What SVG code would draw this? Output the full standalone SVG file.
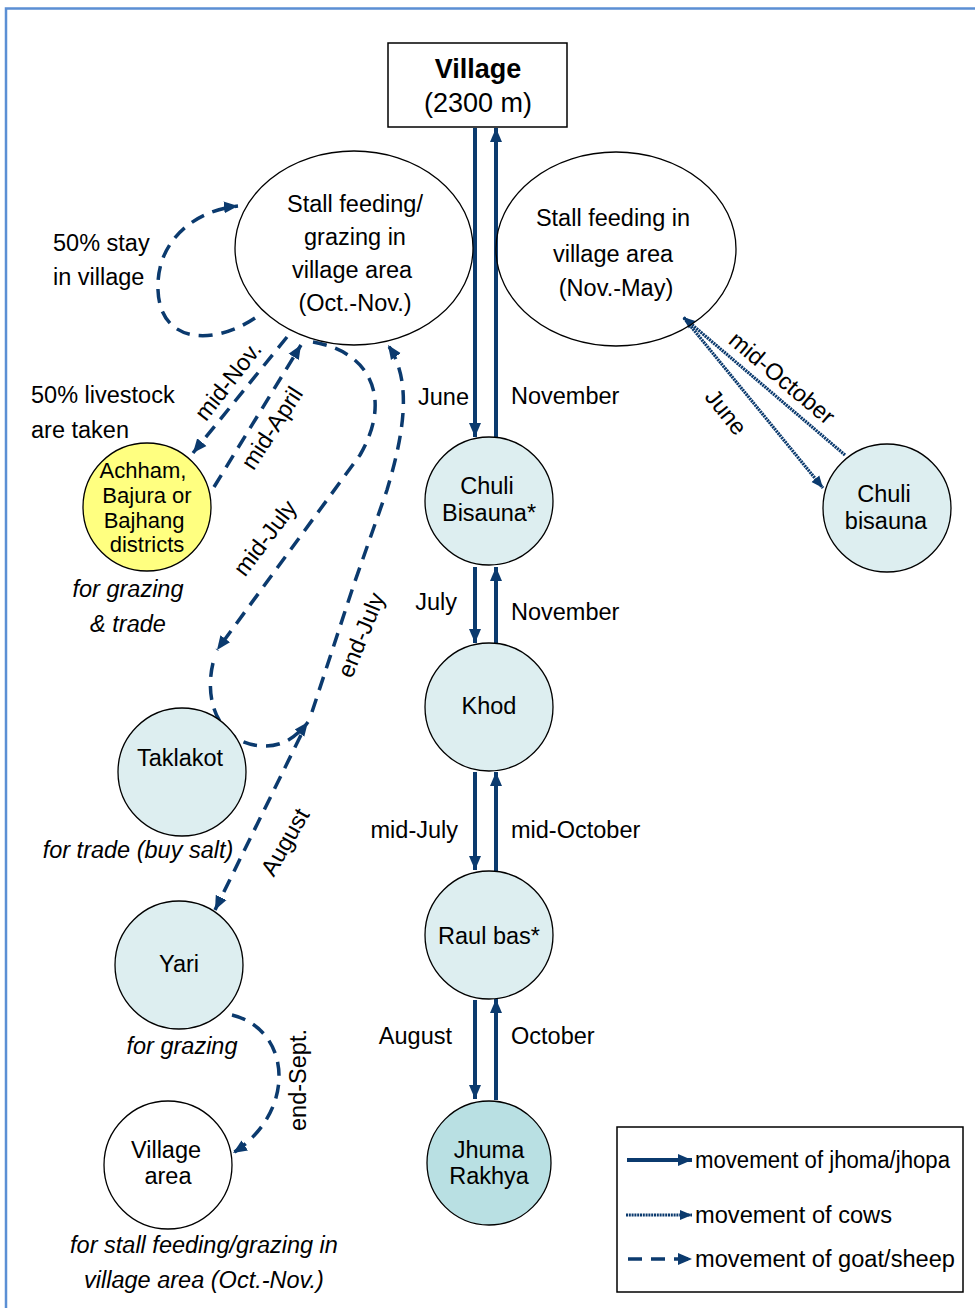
<svg xmlns="http://www.w3.org/2000/svg" width="975" height="1308" viewBox="0 0 975 1308">
  <style>
    text { font-family: "Liberation Sans", Arial, sans-serif; font-size: 23.5px; fill: #000; }
    .c { text-anchor: middle; }
    .it { font-style: italic; }
    .sm { font-size: 22px; }
    .node { stroke: #000; stroke-width: 1.3; }
    .plain { fill: #fff; }
    .blue { fill: #ddeef0; }
    .teal { fill: #b9e0e3; }
    .yellow { fill: #ffff80; }
    .jh { stroke: #0b3a6e; stroke-width: 4; fill: none; }
    .cow { stroke: #0b3a6e; stroke-width: 3.2; stroke-dasharray: 2 0.8; fill: none; }
    .goat { stroke: #0b3a6e; stroke-width: 3.5; stroke-dasharray: 14 9; fill: none; }
  </style>
  <defs>
    <marker id="headJ" markerUnits="userSpaceOnUse" markerWidth="16" markerHeight="14" refX="14" refY="7" orient="auto">
      <path d="M0,1 L14,7 L0,13 Z" fill="#0b3a6e"/>
    </marker>
    <marker id="headC" markerUnits="userSpaceOnUse" markerWidth="14" markerHeight="12" refX="12" refY="6" orient="auto">
      <path d="M0,1 L12,6 L0,11 Z" fill="#0b3a6e"/>
    </marker>
    <marker id="headG" markerUnits="userSpaceOnUse" markerWidth="16" markerHeight="14" refX="14" refY="7" orient="auto">
      <path d="M0,1 L14,7 L0,13 Z" fill="#0b3a6e"/>
    </marker>
  </defs>

  <!-- frame -->
  <path d="M975,8.5 L6,8.5 L6,1308" fill="none" stroke="#5b8fd4" stroke-width="2.5"/>

  <!-- connectors -->
  <g id="connectors">
    <!-- jhoma/jhopa main column -->
    <line class="jh" x1="475" y1="128" x2="475" y2="437" marker-end="url(#headJ)"/>
    <line class="jh" x1="496" y1="437" x2="496" y2="128" marker-end="url(#headJ)"/>
    <line class="jh" x1="475" y1="567" x2="475" y2="643" marker-end="url(#headJ)"/>
    <line class="jh" x1="496" y1="643" x2="496" y2="567" marker-end="url(#headJ)"/>
    <line class="jh" x1="475" y1="772" x2="475" y2="870" marker-end="url(#headJ)"/>
    <line class="jh" x1="496" y1="871" x2="496" y2="772" marker-end="url(#headJ)"/>
    <line class="jh" x1="475" y1="1000" x2="475" y2="1099" marker-end="url(#headJ)"/>
    <line class="jh" x1="496" y1="1100" x2="496" y2="999" marker-end="url(#headJ)"/>

    <!-- cows -->
    <line class="cow" x1="684" y1="318" x2="823" y2="488" marker-end="url(#headC)"/>
    <line class="cow" x1="845" y1="455" x2="683" y2="317" marker-end="url(#headC)"/>

    <!-- goat/sheep -->
    <path class="goat" d="M255,318 C215,345 160,345 158,290 C156,238 198,210 238,206" marker-end="url(#headG)"/>
    <path class="goat" d="M287,337 L193,453" marker-end="url(#headG)"/>
    <path class="goat" d="M214,487 L301,345" marker-end="url(#headG)"/>
    <path class="goat" d="M313,342 C372,352 392,400 360,455 L217,650" marker-end="url(#headG)"/>
    <path class="goat" d="M213,663 C203,705 222,746 265,746 C285,746 298,735 308,722" marker-end="url(#headG)"/>
    <path class="goat" d="M312,712 L353,587 L387,490 C405,430 412,380 388,345" marker-end="url(#headG)"/>
    <path class="goat" d="M301,735 L215,910" marker-end="url(#headG)"/>
    <path class="goat" d="M232,1015 C292,1030 297,1112 233,1153" marker-end="url(#headG)"/>
  </g>

  <!-- connector labels -->
  <g id="labels">
    <text x="469" y="405" text-anchor="end">June</text>
    <text x="511" y="404">November</text>
    <text x="457" y="610" text-anchor="end">July</text>
    <text x="511" y="620">November</text>
    <text x="458" y="838" text-anchor="end">mid-July</text>
    <text x="511" y="838">mid-October</text>
    <text x="452" y="1044" text-anchor="end">August</text>
    <text x="511" y="1044">October</text>

    <text class="c" transform="translate(782,378) rotate(40)" y="8">mid-October</text>
    <text class="c" transform="translate(726,412) rotate(51)" y="8">June</text>

    <text class="c" transform="translate(228,381) rotate(-52)" y="8">mid-Nov.</text>
    <text class="c" transform="translate(272,428) rotate(-57)" y="8">mid-April</text>
    <text class="c" transform="translate(265,538) rotate(-53)" y="8">mid-July</text>
    <text class="c" transform="translate(361,635) rotate(-68)" y="8">end-July</text>
    <text class="c" transform="translate(285,842) rotate(-60)" y="8">August</text>
    <text class="c" transform="translate(298,1080) rotate(-90)" y="8">end-Sept.</text>

    <text x="53" y="251">50% stay</text>
    <text x="53" y="285">in village</text>
    <text x="31" y="403">50% livestock</text>
    <text x="31" y="438">are taken</text>

    <text class="c it" x="128" y="597">for grazing</text>
    <text class="c it" x="128" y="632">&amp; trade</text>
    <text class="c it" x="138" y="858">for trade (buy salt)</text>
    <text class="c it" x="182" y="1054">for grazing</text>
    <text class="c it" x="204" y="1253">for stall feeding/grazing in</text>
    <text class="c it" x="204" y="1288">village area (Oct.-Nov.)</text>
  </g>

  <!-- nodes -->
  <g id="village">
    <rect x="388" y="43" width="179" height="84" fill="#fff" stroke="#000" stroke-width="1.5"/>
    <text class="c" x="478" y="78" style="font-weight:bold;font-size:27px">Village</text>
    <text class="c" x="478" y="112" style="font-size:27px">(2300 m)</text>
  </g>

  <g id="stall-oct-nov">
    <ellipse class="node plain" cx="354" cy="248" rx="119" ry="97" fill-opacity="0"/>
    <text class="c" x="355" y="212">Stall feeding/</text>
    <text class="c" x="355" y="245">grazing in</text>
    <text class="c" x="352" y="278">village area</text>
    <text class="c" x="355" y="311">(Oct.-Nov.)</text>
  </g>

  <g id="stall-nov-may">
    <ellipse class="node plain" cx="616" cy="249" rx="120" ry="97" fill-opacity="0"/>
    <text class="c" x="613" y="226">Stall feeding in</text>
    <text class="c" x="613" y="262">village area</text>
    <text class="c" x="616" y="296">(Nov.-May)</text>
  </g>

  <g id="chuli-bisauna">
    <circle class="node blue" cx="489" cy="501" r="64"/>
    <text class="c" x="487" y="494">Chuli</text>
    <text class="c" x="489" y="521">Bisauna*</text>
  </g>

  <g id="khod">
    <circle class="node blue" cx="489" cy="707" r="64"/>
    <text class="c" x="489" y="714">Khod</text>
  </g>

  <g id="raul-bas">
    <circle class="node blue" cx="489" cy="935" r="64"/>
    <text class="c" x="489" y="944">Raul bas*</text>
  </g>

  <g id="jhuma-rakhya">
    <circle class="node teal" cx="489" cy="1163" r="62"/>
    <text class="c" x="489" y="1158">Jhuma</text>
    <text class="c" x="489" y="1184">Rakhya</text>
  </g>

  <g id="chuli-bisauna-cows">
    <circle class="node blue" cx="887" cy="508" r="64"/>
    <text class="c" x="884" y="502">Chuli</text>
    <text class="c" x="886" y="529">bisauna</text>
  </g>

  <g id="districts">
    <circle class="node yellow" cx="147" cy="507" r="64"/>
    <text class="c sm" x="143" y="478">Achham,</text>
    <text class="c sm" x="147" y="503">Bajura or</text>
    <text class="c sm" x="144" y="528">Bajhang</text>
    <text class="c sm" x="147" y="552">districts</text>
  </g>

  <g id="taklakot">
    <circle class="node blue" cx="182" cy="772" r="64"/>
    <text class="c" x="180" y="766">Taklakot</text>
  </g>

  <g id="yari">
    <circle class="node blue" cx="179" cy="965" r="64"/>
    <text class="c" x="179" y="972">Yari</text>
  </g>

  <g id="village-area">
    <circle class="node plain" cx="168" cy="1165" r="64"/>
    <text class="c" x="166" y="1158">Village</text>
    <text class="c" x="168" y="1184">area</text>
  </g>

  <!-- legend -->
  <g id="legend">
    <rect x="617" y="1127" width="346" height="165" fill="#fff" stroke="#000" stroke-width="1.5"/>
    <line class="jh" x1="627" y1="1160" x2="692" y2="1160" marker-end="url(#headJ)"/>
    <text x="695" y="1168" textLength="255" lengthAdjust="spacingAndGlyphs">movement of jhoma/jhopa</text>
    <line class="cow" x1="626" y1="1215" x2="692" y2="1215" marker-end="url(#headC)"/>
    <text x="695" y="1223" textLength="197" lengthAdjust="spacingAndGlyphs">movement of cows</text>
    <line class="goat" x1="628" y1="1259" x2="692" y2="1259" marker-end="url(#headG)"/>
    <text x="695" y="1267" textLength="260" lengthAdjust="spacingAndGlyphs">movement of goat/sheep</text>
  </g>
</svg>
